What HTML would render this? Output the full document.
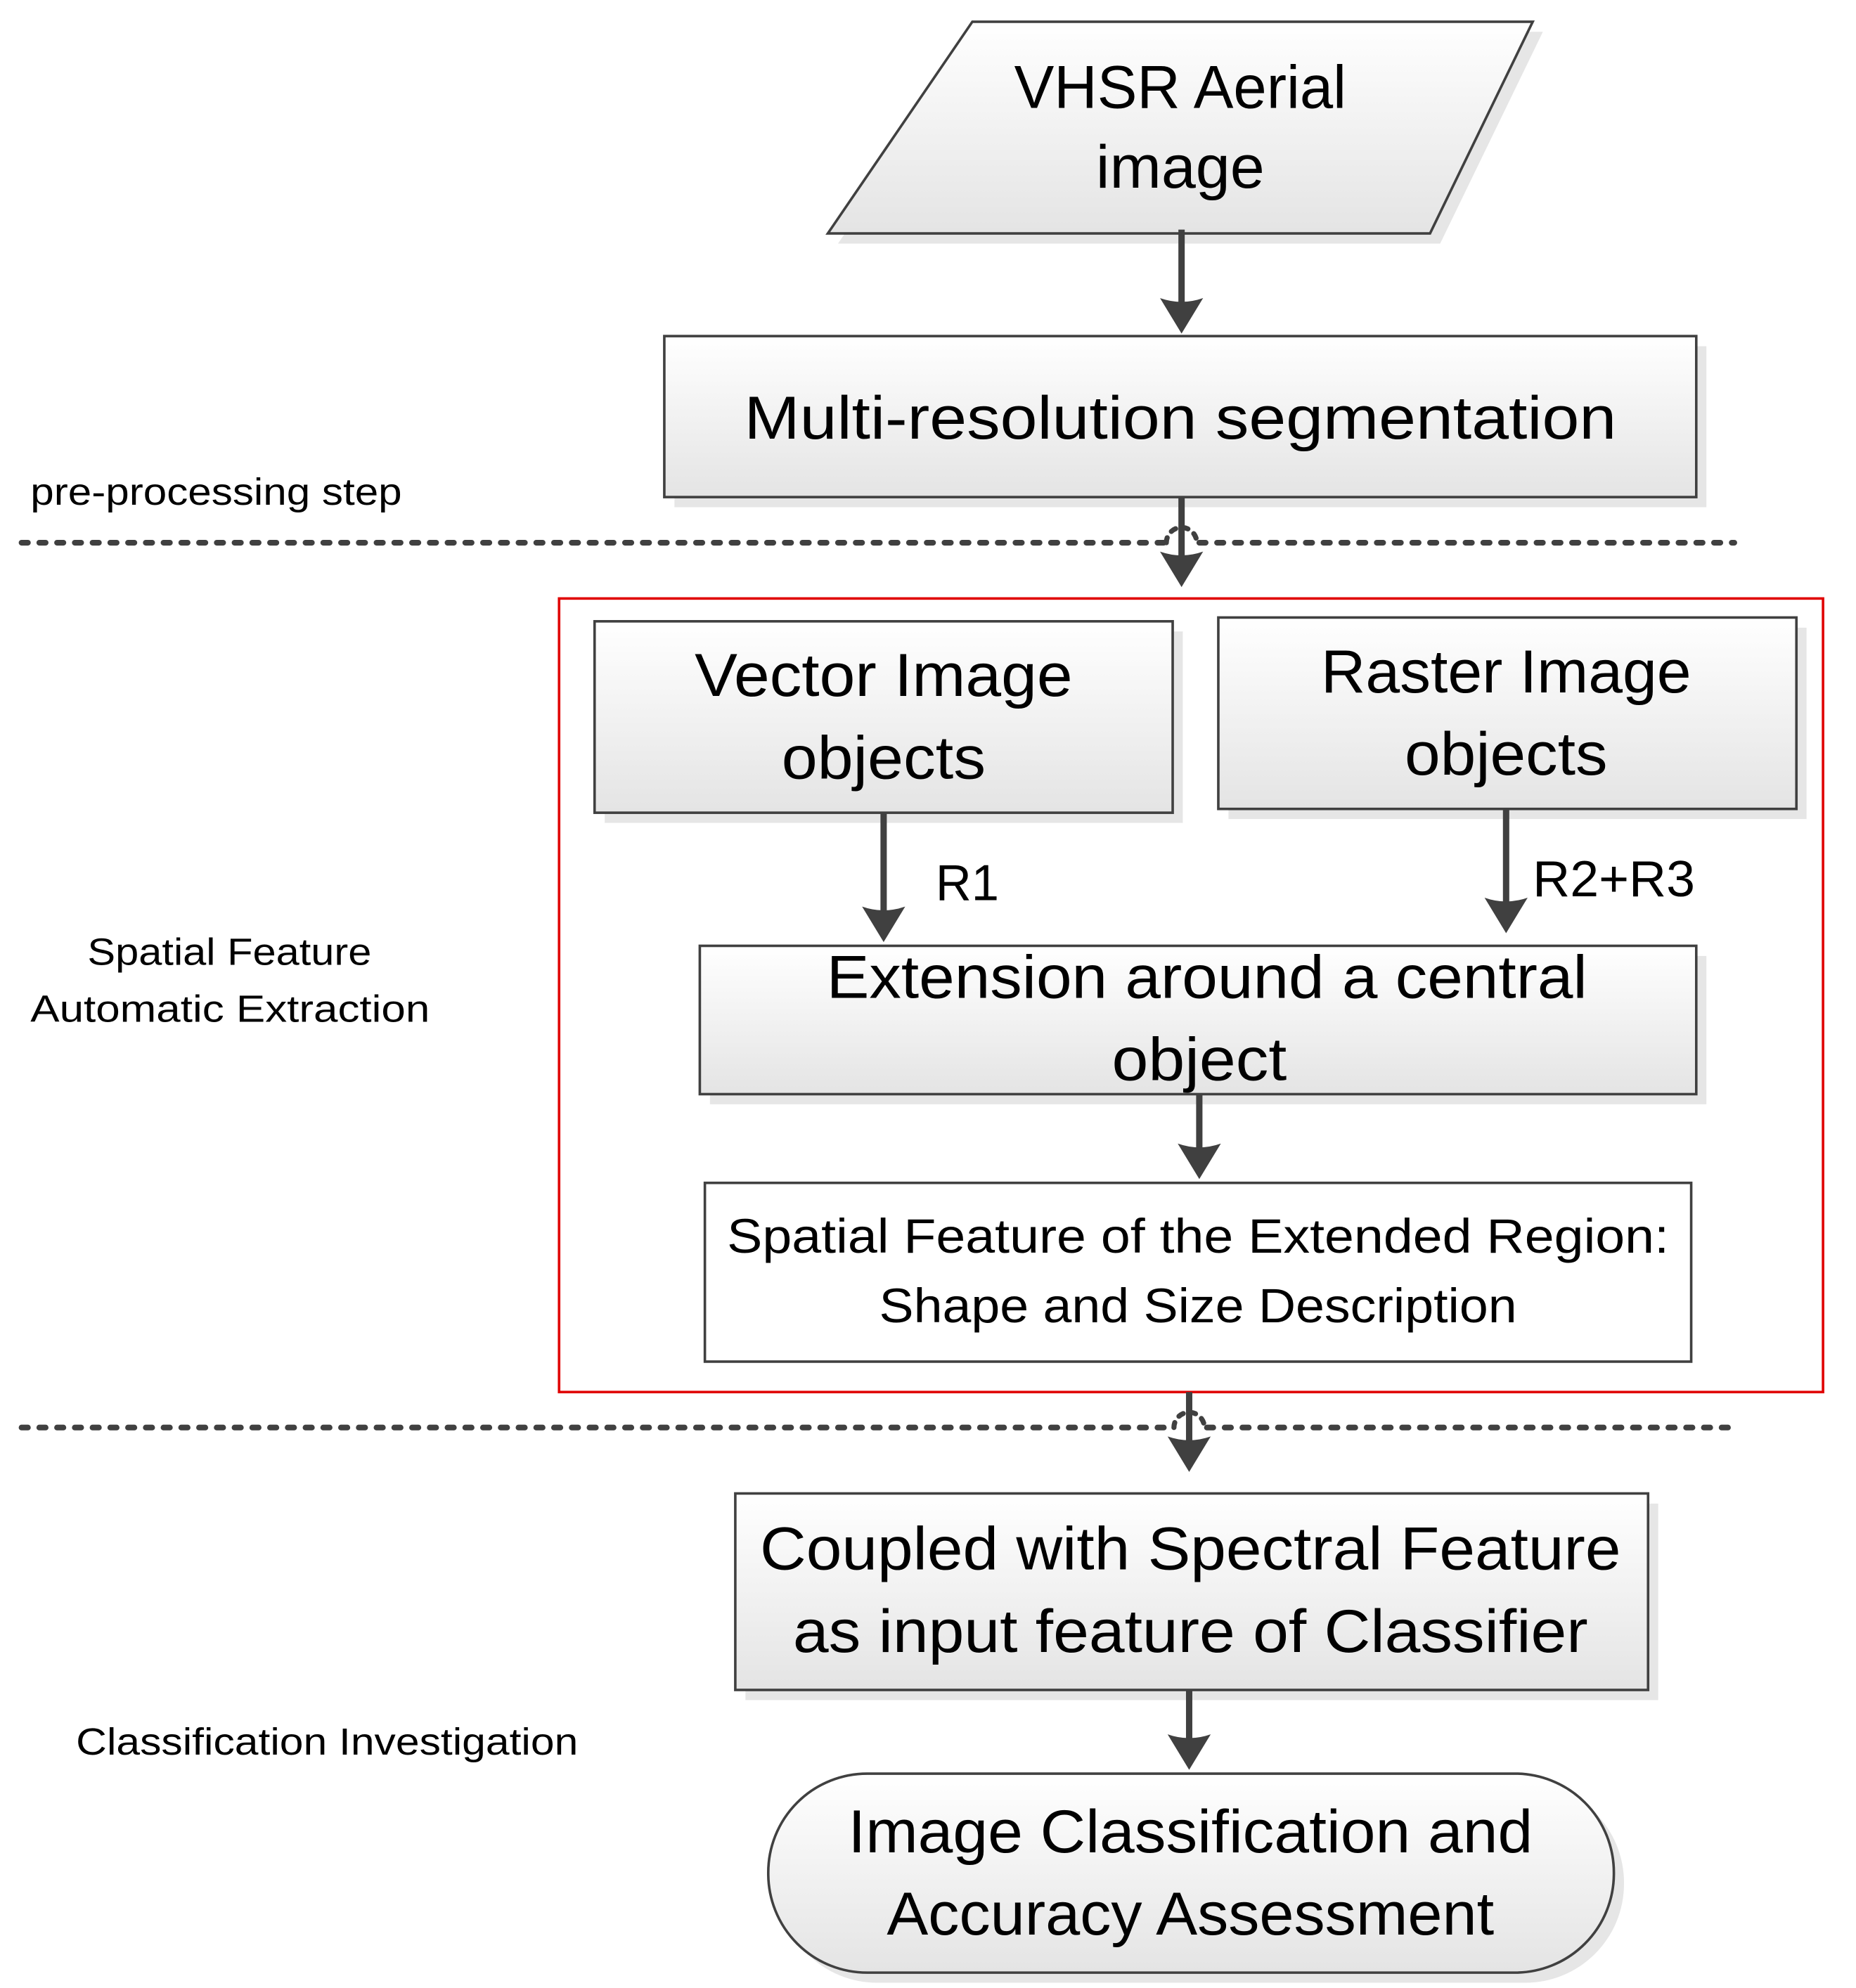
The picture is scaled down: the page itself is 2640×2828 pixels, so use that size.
<!DOCTYPE html>
<html><head><meta charset="utf-8"><style>html,body{margin:0;padding:0;background:#fff}svg{display:block}</style></head>
<body>
<svg width="2640" height="2828" viewBox="0 0 1464 1568" xmlns="http://www.w3.org/2000/svg" font-family="'Liberation Sans', sans-serif" fill="#000">
<defs>
<linearGradient id="g" x1="0" y1="0" x2="0" y2="1"><stop offset="0" stop-color="#ffffff"/><stop offset="1" stop-color="#e4e4e4"/></linearGradient>
<g id="ah"><path d="M-17,-30 L0,-2 L17,-30 Q0,-24 -17,-30 Z" fill="#404040"/></g>
</defs>
<g fill="#e6e6e6">
<polygon points="775,25 1217,25 1136,192 661,192"/>
<rect x="532" y="273" width="814" height="127"/>
<rect x="477" y="498" width="456" height="151"/>
<rect x="969" y="495" width="456" height="151"/>
<rect x="560" y="754" width="786" height="117"/>
<rect x="588" y="1186" width="720" height="155"/>
<rect x="614" y="1407" width="667" height="157" rx="78"/>
</g>
<g stroke="#404040" stroke-width="2" fill="url(#g)">
<polygon points="767,17 1209,17 1128,184 653,184"/>
<rect x="524" y="265" width="814" height="127"/>
</g>
<rect x="441" y="472" width="997" height="626" fill="none" stroke="#e00000" stroke-width="2"/>
<g stroke="#404040" stroke-width="2" fill="url(#g)">
<rect x="469" y="490" width="456" height="151"/>
<rect x="961" y="487" width="456" height="151"/>
<rect x="552" y="746" width="786" height="117"/>
<rect x="556" y="933" width="778" height="141" fill="#fff"/>
<rect x="580" y="1178" width="720" height="155"/>
<rect x="606" y="1399" width="667" height="157" rx="78"/>
</g>
<g stroke="#404040" stroke-width="4.5" stroke-dasharray="5 9" stroke-linecap="round" fill="none">
<line x1="17" y1="428" x2="918" y2="428"/>
<line x1="946" y1="428" x2="1368" y2="428"/>
<line x1="17" y1="1126" x2="924" y2="1126"/>
<line x1="952" y1="1126" x2="1368" y2="1126"/>
</g>
<g stroke="#404040" stroke-width="4" stroke-dasharray="4 6" stroke-linecap="round" fill="none">
<path d="M920,428 A12,12 0 0 1 944,428"/>
<path d="M926,1126 A12,12 0 0 1 950,1126"/>
</g>
<g stroke="#404040" stroke-width="5">
<line x1="932" y1="181" x2="932" y2="240"/>
<line x1="932" y1="392" x2="932" y2="440"/>
<line x1="697" y1="641" x2="697" y2="720"/>
<line x1="1188" y1="638" x2="1188" y2="713"/>
<line x1="946" y1="863" x2="946" y2="907"/>
<line x1="938" y1="1098" x2="938" y2="1138"/>
<line x1="938" y1="1333" x2="938" y2="1373"/>
</g>
<g>
<use href="#ah" x="932" y="465"/><use href="#ah" x="932" y="265"/><use href="#ah" x="697" y="745"/>
<use href="#ah" x="1188" y="738"/><use href="#ah" x="946" y="932"/><use href="#ah" x="938" y="1163"/><use href="#ah" x="938" y="1398"/>
</g>
<g font-size="48" text-anchor="middle">
<text x="931" y="85" textLength="262" lengthAdjust="spacingAndGlyphs">VHSR Aerial</text>
<text x="931" y="148" textLength="133" lengthAdjust="spacingAndGlyphs">image</text>
<text x="931" y="346" textLength="688" lengthAdjust="spacingAndGlyphs">Multi-resolution segmentation</text>
<text x="697" y="549" textLength="298" lengthAdjust="spacingAndGlyphs">Vector Image</text>
<text x="697" y="614" textLength="161" lengthAdjust="spacingAndGlyphs">objects</text>
<text x="1188" y="546" textLength="292" lengthAdjust="spacingAndGlyphs">Raster Image</text>
<text x="1188" y="611" textLength="160" lengthAdjust="spacingAndGlyphs">objects</text>
<text x="952" y="787" textLength="600" lengthAdjust="spacingAndGlyphs">Extension around a central</text>
<text x="946" y="852" textLength="138" lengthAdjust="spacingAndGlyphs">object</text>
<text x="939" y="1238" textLength="679" lengthAdjust="spacingAndGlyphs">Coupled with Spectral Feature</text>
<text x="939" y="1303" textLength="627" lengthAdjust="spacingAndGlyphs">as input feature of Classifier</text>
<text x="939" y="1461" textLength="540" lengthAdjust="spacingAndGlyphs">Image Classification and</text>
<text x="939" y="1526" textLength="479" lengthAdjust="spacingAndGlyphs">Accuracy Assessment</text>
</g>
<g font-size="40">
<text x="738" y="710" textLength="50" lengthAdjust="spacingAndGlyphs">R1</text>
<text x="1209" y="707" textLength="128" lengthAdjust="spacingAndGlyphs">R2+R3</text>
</g>
<g font-size="38" text-anchor="middle">
<text x="945" y="988" textLength="743" lengthAdjust="spacingAndGlyphs">Spatial Feature of the Extended Region:</text>
<text x="945" y="1043" textLength="503" lengthAdjust="spacingAndGlyphs">Shape and Size Description</text>
</g>
<g font-size="30">
<text x="24" y="398" textLength="293" lengthAdjust="spacingAndGlyphs">pre-processing step</text>
<text x="69" y="761" textLength="224" lengthAdjust="spacingAndGlyphs">Spatial Feature</text>
<text x="24" y="806" textLength="315" lengthAdjust="spacingAndGlyphs">Automatic Extraction</text>
<text x="60" y="1384" textLength="396" lengthAdjust="spacingAndGlyphs">Classification Investigation</text>
</g>
</svg>
</body></html>
